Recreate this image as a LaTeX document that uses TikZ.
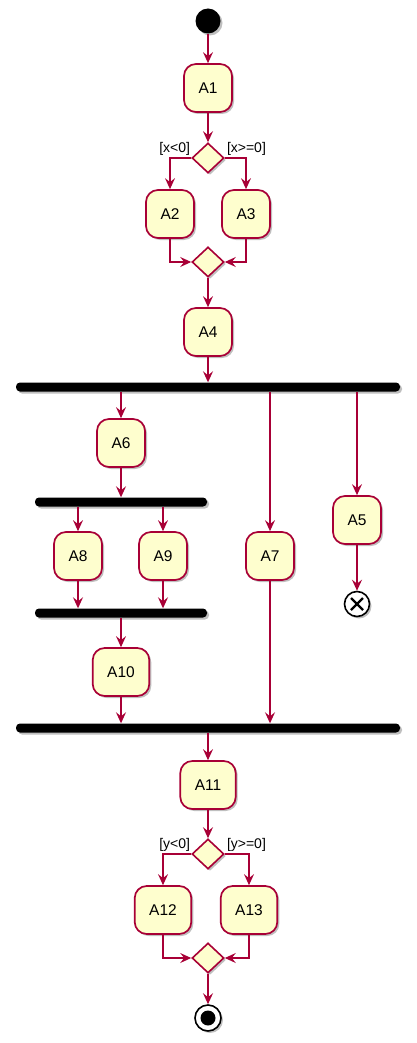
\documentclass[tikz,border=0pt]{standalone}
\usepackage{fontspec}
\setmainfont{Liberation Sans}
\usetikzlibrary{shapes.geometric,arrows.meta,shadows}
\definecolor{umlred}{HTML}{A80036}
\definecolor{umlfill}{HTML}{FEFECE}

\begin{document}
\begin{tikzpicture}[x=1pt,y=-1pt,
  shade/.style={drop shadow={shadow xshift=2pt, shadow yshift=-2pt, opacity=0.25, fill=black}},
  act/.style={rectangle, rounded corners=12pt, draw=umlred, fill=umlfill, line width=1.7pt,
    minimum width=48pt, minimum height=48pt, inner xsep=14.5pt, font=\fontsize{15.5}{18}\selectfont, shade},
  choice/.style={diamond, draw=umlred, fill=umlfill, line width=1.6pt, minimum width=32pt,
    minimum height=30pt, inner sep=0pt, shade},
  bar/.style={rectangle, fill=black, rounded corners=4pt, minimum height=9pt, inner sep=0pt,
    minimum width=#1, shade},
  guard/.style={inner sep=0pt, font=\fontsize{14}{16}\selectfont},
  flow/.style={draw=umlred, line width=1.3pt, -{Stealth[length=11pt, width=10pt, inset=4pt]}},
  startdot/.style={circle, fill=black, minimum size=25pt, inner sep=0pt, shade},
  stopring/.style={circle, draw=black, fill=white, line width=1.6pt, minimum size=26pt, inner sep=0pt, shade},
  stopdot/.style={circle, fill=black, minimum size=15pt, inner sep=0pt},
  killnode/.style={circle, draw=black, fill=white, line width=1.6pt, minimum size=25pt, inner sep=0pt, shade,
    path picture={\draw[line width=2.2pt]
      ([shift={(-6pt,-6pt)}]path picture bounding box.center) -- ([shift={(6pt,6pt)}]path picture bounding box.center)
      ([shift={(-6pt,6pt)}]path picture bounding box.center) -- ([shift={(6pt,-6pt)}]path picture bounding box.center);}}]
  \useasboundingbox (0,0) rectangle (416,1043);

  % first branch
  \node[startdot] (start) at (208,21) {};
  \node[act] (a1) at (208,88) {A1};
  \node[choice] (d1) at (208,158) {};
  \node[guard, anchor=south east] (gx1) at ([shift={(-1pt,2pt)}]d1.west) {[x<0]};
  \node[guard, anchor=south west] (gx2) at ([shift={(2pt,2pt)}]d1.east) {[x>=0]};
  \node[act] (a2) at (170,214) {A2};
  \node[act] (a3) at (246,214) {A3};
  \node[choice] (d2) at (208,262) {};
  \node[act] (a4) at (208,332) {A4};

  % fork
  \node[bar=384pt] (fork1) at (208,387) {};
  \node[act] (a6) at (121,443) {A6};
  \node[bar=172pt] (fork2) at (121,502) {};
  \node[act] (a8) at (78,556) {A8};
  \node[act] (a9) at (163,556) {A9};
  \node[act] (a7) at (270,556) {A7};
  \node[act] (a5) at (357,520) {A5};
  \node[killnode] (kill) at (357,604) {};
  \node[bar=172pt] (join2) at (121,613) {};
  \node[act] (a10) at (121,672) {A10};
  \node[bar=384pt] (join1) at (208,728) {};

  % second branch
  \node[act] (a11) at (208,785) {A11};
  \node[choice] (d3) at (208,854) {};
  \node[guard, anchor=south east] (gy1) at ([shift={(-1pt,2pt)}]d3.west) {[y<0]};
  \node[guard, anchor=south west] (gy2) at ([shift={(2pt,2pt)}]d3.east) {[y>=0]};
  \node[act] (a12) at (163,910) {A12};
  \node[act] (a13) at (249,910) {A13};
  \node[choice] (d4) at (208,958) {};
  \node[stopring] (stop) at (208,1018) {};
  \node[stopdot] (stopin) at (stop) {};

  \draw[flow] (start) -- (a1);
  \draw[flow] (a1) -- (d1);
  \draw[flow] (d1.west) -| (a2);
  \draw[flow] (d1.east) -| (a3);
  \draw[flow] (a2) |- (d2.west);
  \draw[flow] (a3) |- (d2.east);
  \draw[flow] (d2) -- (a4);
  \draw[flow] (a4) -- (fork1);
  \draw[flow] (a6 |- fork1.south) -- (a6);
  \draw[flow] (a7 |- fork1.south) -- (a7);
  \draw[flow] (a5 |- fork1.south) -- (a5);
  \draw[flow] (a6) -- (fork2);
  \draw[flow] (a8 |- fork2.south) -- (a8);
  \draw[flow] (a9 |- fork2.south) -- (a9);
  \draw[flow] (a8) -- (a8 |- join2.north);
  \draw[flow] (a9) -- (a9 |- join2.north);
  \draw[flow] (a5) -- (kill);
  \draw[flow] (join2) -- (a10);
  \draw[flow] (a10) -- (a10 |- join1.north);
  \draw[flow] (a7) -- (a7 |- join1.north);
  \draw[flow] (join1) -- (a11);
  \draw[flow] (a11) -- (d3);
  \draw[flow] (d3.west) -| (a12);
  \draw[flow] (d3.east) -| (a13);
  \draw[flow] (a12) |- (d4.west);
  \draw[flow] (a13) |- (d4.east);
  \draw[flow] (d4) -- (stop);
\end{tikzpicture}
\end{document}
